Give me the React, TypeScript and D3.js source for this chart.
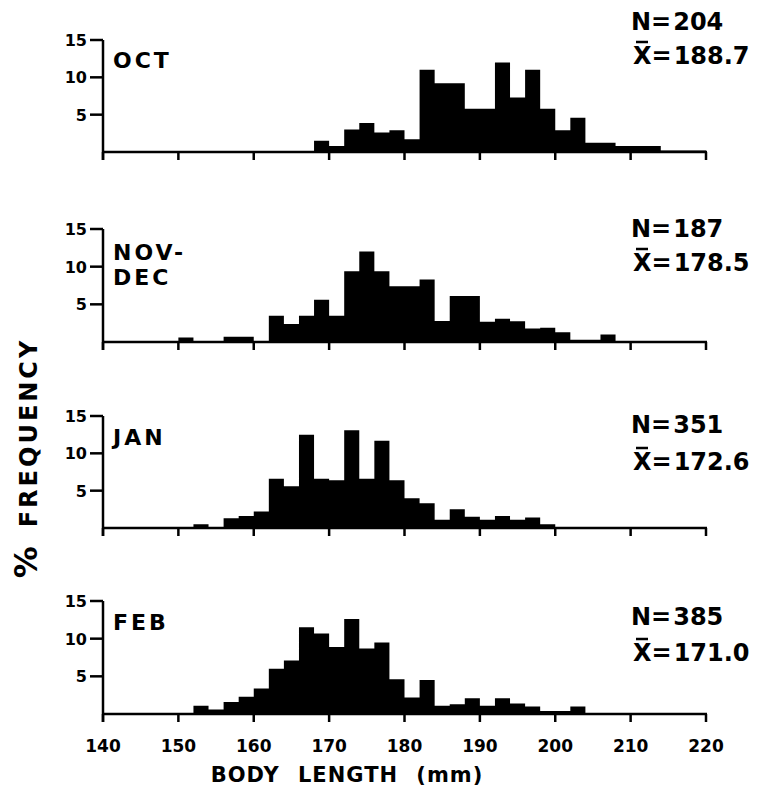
import React from 'react';
import * as d3 from 'd3';

// 2 mm bins, starting at 140 mm
const binStarts = d3.range(140, 220, 2);

const months = ['OCT', 'NOV-DEC', 'JAN', 'FEB'];
const nLabels = ['204', '187', '351', '385'];
const meanLabels = ['188.7', '178.5', '172.6', '171.0'];

// % frequency per bin
const octValues = [
  0, 0, 0, 0, 0, 0, 0, 0, 0, 0, 0, 0, 0, 0,
  1.5, 0.8, 3.0, 3.9, 2.6, 2.9, 1.7, 11.0, 9.2, 9.2, 5.8, 5.8, 12.0, 7.3, 11.0, 5.8,
  2.9, 4.6, 1.25, 1.25, 0.8, 0.8, 0.8, 0.2, 0.2, 0.2,
];
const novDecValues = [
  0, 0, 0, 0, 0, 0.6, 0, 0, 0.7, 0.7, 0, 3.5, 2.4, 3.5, 5.6, 3.5, 9.4, 12.0, 9.4, 7.4,
  7.4, 8.3, 2.8, 6.1, 6.1, 2.7, 3.1, 2.75, 1.8, 1.9, 1.3, 0.3, 0.3, 1.0, 0, 0, 0, 0, 0, 0,
];
const janValues = [
  0, 0, 0, 0, 0, 0, 0.5, 0, 1.3, 1.6, 2.2, 6.6, 5.6, 12.5, 6.6, 6.4, 13.1, 6.6, 11.7, 6.4,
  4.0, 3.3, 1.1, 2.5, 1.5, 1.1, 1.6, 1.1, 1.4, 0.5, 0, 0, 0, 0, 0, 0, 0, 0, 0, 0,
];
const febValues = [
  0, 0, 0, 0, 0, 0, 1.1, 0.6, 1.6, 2.3, 3.4, 6.0, 7.1, 11.5, 10.7, 8.9, 12.6, 8.7, 9.5, 4.6,
  2.2, 4.5, 1.1, 1.3, 2.1, 1.1, 2.1, 1.4, 1.0, 0.4, 0.4, 1.0, 0, 0, 0, 0, 0, 0, 0, 0,
];
const seriesValues = [octValues, novDecValues, janValues, febValues];

const xTicks = [140, 150, 160, 170, 180, 190, 200, 210, 220];
const yTicks = [5, 10, 15];

// panel layout: y of 15% and 0%, N row baseline, X row baseline, month label baselines
const panels = [
  { top: 40, base: 152, nY: 30, xY: 64, labY: [68] },
  { top: 229, base: 342, nY: 237, xY: 271, labY: [260, 285] },
  { top: 416, base: 528, nY: 433, xY: 470, labY: [445] },
  { top: 601, base: 714, nY: 625, xY: 661, labY: [630] },
];

const FONT = '"DejaVu Sans", sans-serif';

const x = d3.scaleLinear().domain([140, 220]).range([103, 706]);

const Panel: React.FC<{ idx: number }> = ({ idx }) => {
  const p = panels[idx];
  const y = d3.scaleLinear().domain([0, 15]).range([p.base, p.top]);
  const vals = seriesValues[idx];
  const pts: [number, number][] = binStarts.map((b, i) => [b, vals[i]]);
  pts.push([220, 0]);
  const area = d3
    .area<[number, number]>()
    .x((d) => x(d[0]))
    .y0(y(0))
    .y1((d) => y(d[1]))
    .curve(d3.curveStepAfter);
  const labelLines = months[idx].includes('-') ? ['NOV-', 'DEC'] : [months[idx]];
  const last = idx === panels.length - 1;
  return (
    <g>
      <path d={area(pts) || ''} fill="#000" />
      {/* axes */}
      <line x1={x(140)} x2={x(220) + 1} y1={y(0)} y2={y(0)} stroke="#000" strokeWidth={2.5} />
      <line x1={x(140)} x2={x(140)} y1={y(15)} y2={y(0) + 8} stroke="#000" strokeWidth={2.5} />
      {xTicks.map((t) => (
        <line key={t} x1={x(t)} x2={x(t)} y1={y(0)} y2={y(0) + 8} stroke="#000" strokeWidth={2.5} />
      ))}
      {yTicks.map((t) => (
        <g key={t}>
          <line x1={x(140) - 13} x2={x(140)} y1={y(t)} y2={y(t)} stroke="#000" strokeWidth={2.5} />
          <text x={x(140) - 16} y={y(t) + 6} textAnchor="end" fontSize={16} fontWeight="bold" fontFamily={FONT}>
            {t}
          </text>
        </g>
      ))}
      {last &&
        xTicks.map((t) => (
          <text key={t} x={x(t)} y={752} textAnchor="middle" fontSize={17} fontWeight="bold" fontFamily={FONT}>
            {t}
          </text>
        ))}
      {/* month label */}
      {labelLines.map((l, i) => (
        <text key={l} x={113} y={p.labY[i]} fontSize={22} fontWeight="bold" fontFamily={FONT} letterSpacing={3}>
          {l}
        </text>
      ))}
      {/* N and mean */}
      <text x={631} y={p.nY} fontSize={24} fontWeight="bold" fontFamily={FONT}>
        N=<tspan dx={2}>{nLabels[idx]}</tspan>
      </text>
      <text x={633} y={p.xY} fontSize={24} fontWeight="bold" fontFamily={FONT}>
        X=<tspan dx={2}>{meanLabels[idx]}</tspan>
      </text>
      <line x1={636} x2={648} y1={p.xY - 22} y2={p.xY - 22} stroke="#000" strokeWidth={2.5} />
    </g>
  );
};

export default function App() {
  return (
    <svg
      width={765}
      height={786}
      viewBox="0 0 765 786"
      style={{ position: 'absolute', left: 0, top: 0, background: '#fff' }}
    >
      <rect width={765} height={786} fill="#fff" />
      {panels.map((_, i) => (
        <Panel key={i} idx={i} />
      ))}
      <text
        transform="translate(37,458) rotate(-90)"
        textAnchor="middle"
        fontSize={24}
        fontWeight="bold"
        fontFamily={FONT}
        letterSpacing={3}
      >
        <tspan fontSize={32}>%</tspan>
        <tspan dx={16}>FREQUENCY</tspan>
      </text>
      <text x={347} y={782} textAnchor="middle" fontSize={21} fontWeight="bold" fontFamily={FONT} letterSpacing={1} wordSpacing={10}>
        BODY LENGTH (mm)
      </text>
    </svg>
  );
}
